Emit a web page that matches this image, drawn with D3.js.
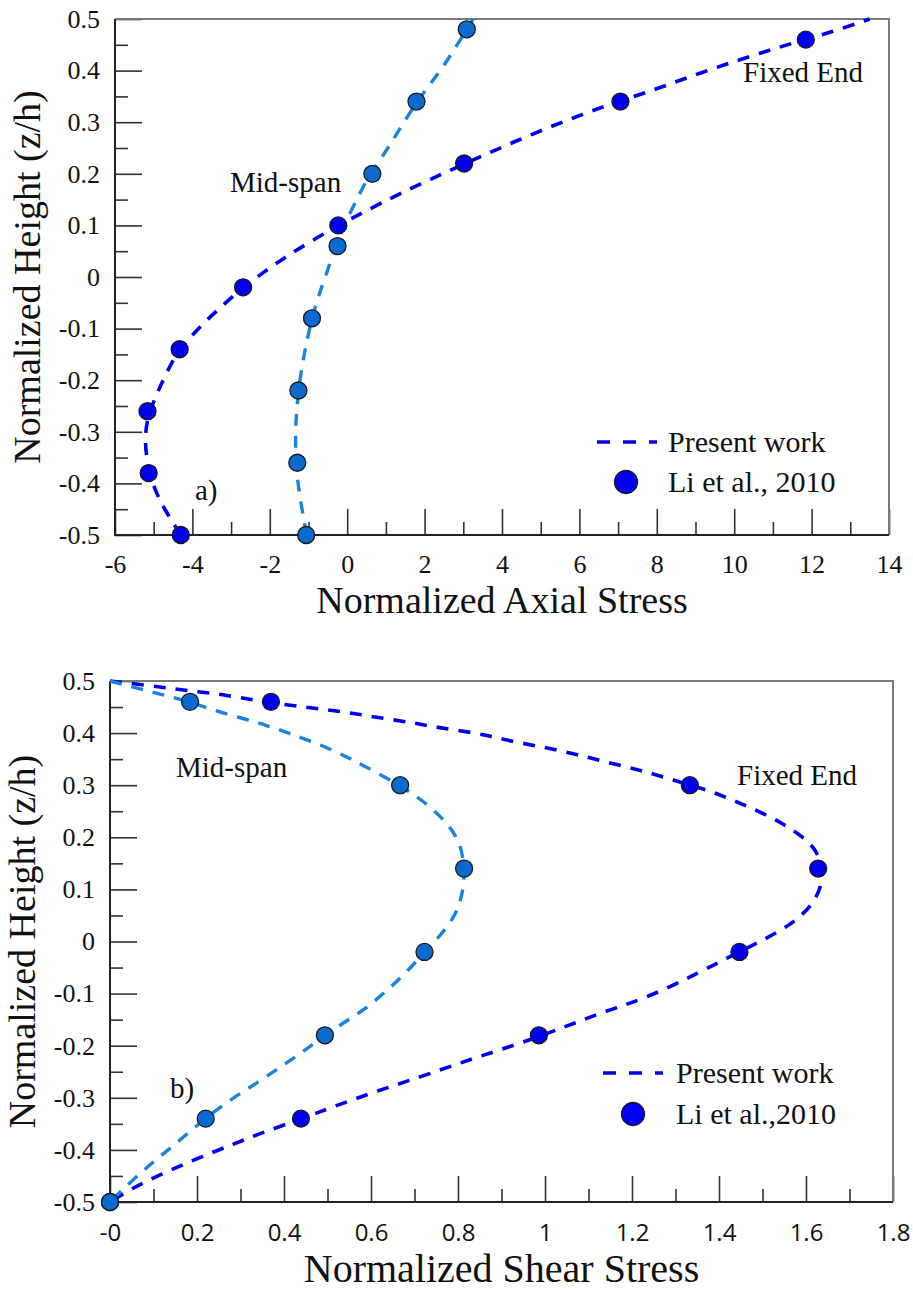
<!DOCTYPE html>
<meta charset="utf-8">
<style type="text/css">
body { margin: 0; background: #fff; }
.tick line { stroke: #333; stroke-width: 1.6; }
</style>
<body>
<div id="chart"></div>
<script src="https://d3js.org/d3.v7.min.js"></script>
<script>
var SERIF = "'Liberation Serif', 'Times New Roman', serif";
var SANS = "'Open Sans', 'DejaVu Sans', sans-serif";

// ---- panel a) : axial stress ----
var axialXTicks = [-6, -4, -2, 0, 2, 4, 6, 8, 10, 12, 14];
var heightTicks = [0.5, 0.4, 0.3, 0.2, 0.1, 0, -0.1, -0.2, -0.3, -0.4, -0.5];
var heightLabels = ["0.5", "0.4", "0.3", "0.2", "0.1", "0", "-0.1", "-0.2", "-0.3", "-0.4", "-0.5"];

// Li et al. 2010 points
var axialFixedZ = [0.46, 0.34, 0.22, 0.10, -0.02, -0.14, -0.26, -0.38, -0.50];
var axialFixedV = [11.85, 7.06, 3.02, -0.23, -2.69, -4.33, -5.16, -5.13, -4.30];
var axialMidZ = [0.48, 0.34, 0.20, 0.06, -0.08, -0.22, -0.36, -0.50];
var axialMidV = [3.09, 1.79, 0.65, -0.25, -0.91, -1.26, -1.29, -1.06];

// present work curves, [z, value]
var axialFixedLine = [[-0.5, -4.30], [-0.452, -4.71], [-0.413, -4.97], [-0.38, -5.10], [-0.348, -5.19], [-0.309, -5.23],
  [-0.27, -5.15], [-0.245, -5.02], [-0.213, -4.84], [-0.174, -4.59], [-0.141, -4.35], [-0.122, -4.11], [-0.09, -3.72],
  [-0.054, -3.21], [-0.021, -2.69], [0.004, -2.26], [0.036, -1.655], [0.068, -0.965], [0.099, -0.25], [0.125, 0.41],
  [0.162, 1.36], [0.20, 2.46], [0.236, 3.52], [0.278, 4.81], [0.314, 6.02], [0.34, 7.0], [0.362, 7.91], [0.398, 9.21],
  [0.43, 10.5], [0.46, 11.8], [0.472, 12.4], [0.494, 13.28], [0.5, 13.5]];
var axialMidLine = [[-0.5, -1.05], [-0.445, -1.18], [-0.393, -1.29], [-0.35, -1.33], [-0.303, -1.34], [-0.264, -1.31],
  [-0.219, -1.26], [-0.174, -1.17], [-0.122, -1.04], [-0.08, -0.91], [-0.038, -0.75], [0.007, -0.53], [0.059, -0.30],
  [0.097, -0.10], [0.136, 0.15], [0.188, 0.50], [0.20, 0.62], [0.266, 1.19], [0.34, 1.79], [0.398, 2.40], [0.443, 2.78],
  [0.479, 3.09], [0.5, 3.25]];

// ---- panel b) : shear stress ----
var shearXTicks = [0, 0.2, 0.4, 0.6, 0.8, 1, 1.2, 1.4, 1.6, 1.8];
var shearXLabels = ["-0", "0.2", "0.4", "0.6", "0.8", "1", "1.2", "1.4", "1.6", "1.8"];

var shearPtsZ = [0.46, 0.30, 0.14, -0.02, -0.18, -0.34, -0.50];
var shearFixedV = [0.37, 1.333, 1.628, 1.447, 0.986, 0.439, 0];
var shearMidV = [0.184, 0.667, 0.814, 0.723, 0.494, 0.22, 0];

var shearFixedLine = [[0.5, 0], [0.492, 0.084], [0.485, 0.146], [0.479, 0.207], [0.473, 0.268], [0.463, 0.33],
  [0.45, 0.444], [0.444, 0.506], [0.437, 0.567], [0.428, 0.628], [0.421, 0.69], [0.412, 0.743], [0.405, 0.805],
  [0.396, 0.866], [0.386, 0.912], [0.367, 1.034], [0.354, 1.096], [0.341, 1.157], [0.329, 1.218], [0.316, 1.272],
  [0.30, 1.333], [0.287, 1.387], [0.268, 1.441], [0.249, 1.494], [0.226, 1.548], [0.20, 1.594], [0.175, 1.625],
  [0.141, 1.637], [0.111, 1.638], [0.073, 1.617], [0.047, 1.586], [0.028, 1.555], [0.006, 1.509], [-0.02, 1.447],
  [-0.039, 1.402], [-0.062, 1.348], [-0.084, 1.295], [-0.107, 1.233], [-0.123, 1.18], [-0.138, 1.126], [-0.155, 1.073],
  [-0.171, 1.023], [-0.199, 0.931], [-0.225, 0.832], [-0.257, 0.724], [-0.286, 0.617], [-0.318, 0.51], [-0.34, 0.441],
  [-0.372, 0.333], [-0.391, 0.279], [-0.41, 0.218], [-0.449, 0.111], [-0.474, 0.05], [-0.5, 0]];
var shearMidLine = [[0.5, 0], [0.485, 0.069], [0.473, 0.123], [0.46, 0.184], [0.444, 0.237], [0.428, 0.306],
  [0.415, 0.36], [0.399, 0.414], [0.383, 0.467], [0.361, 0.529], [0.338, 0.582], [0.30, 0.667], [0.265, 0.728],
  [0.229, 0.774], [0.191, 0.805], [0.141, 0.816], [0.095, 0.812], [0.05, 0.795], [0.012, 0.76], [-0.02, 0.724],
  [-0.065, 0.675], [-0.097, 0.632], [-0.129, 0.588], [-0.151, 0.546], [-0.18, 0.494], [-0.209, 0.448], [-0.235, 0.402],
  [-0.27, 0.341], [-0.302, 0.279], [-0.34, 0.218], [-0.396, 0.14], [-0.421, 0.102], [-0.459, 0.05], [-0.5, 0]];

var legendLabelsA = ["Present work", "Li et al., 2010"];
var legendLabelsB = ["Present work", "Li et al.,2010"];

var fixedColor = "#0000f0";
var midLine = "#1a84dc";
var midFill = "#0a6ad0";

var svg = d3.select("#chart").append("svg")
    .attr("width", 913)
    .attr("height", 1290);

function zip(zs, vs) {
  return zs.map(function(z, i) { return {z: z, v: vs[i]}; });
}
function pairs(arr) {
  return arr.map(function(d) { return {z: d[0], v: d[1]}; });
}

function drawPanel(p) {
  var g = svg.append("g");
  var x = d3.scaleLinear().domain(p.xDomain).range([p.left, p.right]);
  var y = d3.scaleLinear().domain([-0.5, 0.5]).range([p.bottom, p.top]);

  // minor ticks
  g.append("g")
      .attr("transform", "translate(" + p.left + ",0)")
      .call(d3.axisLeft(y).tickValues(d3.range(-0.45, 0.5, 0.1)).tickSize(-13).tickFormat(""))
      .call(function(a) { a.select(".domain").remove(); });
  g.append("g")
      .attr("transform", "translate(0," + p.bottom + ")")
      .call(d3.axisBottom(x).tickValues(p.xMinor).tickSize(-13).tickFormat(""))
      .call(function(a) { a.select(".domain").remove(); });

  // major ticks + labels
  g.append("g")
      .attr("transform", "translate(" + p.left + ",0)")
      .call(d3.axisLeft(y).tickValues(heightTicks).tickSize(-27).tickPadding(p.yPad)
        .tickFormat(function(d, i) { return heightLabels[i]; }))
      .call(function(a) {
        a.select(".domain").remove();
        a.selectAll("text").style("font-size", "26px").style("font-family", SERIF).style("fill", "#111");
      });
  g.append("g")
      .attr("transform", "translate(0," + p.bottom + ")")
      .call(d3.axisBottom(x).tickValues(p.xTicks).tickSize(-26).tickPadding(p.xPad)
        .tickFormat(function(d, i) { return p.xLabels[i]; }))
      .call(function(a) {
        a.select(".domain").remove();
        a.selectAll("text")
            .style("font-size", p.xSans ? "24px" : "26px")
            .style("font-family", p.xSans ? SANS : SERIF)
            .style("fill", "#111");
      });

  // frame
  g.append("path")
      .attr("d", "M" + p.left + "," + p.top + "H" + p.right + "V" + p.bottom)
      .attr("fill", "none").attr("stroke", "#7a7a7a").attr("stroke-width", 2);
  g.append("path")
      .attr("d", "M" + p.left + "," + p.top + "V" + p.bottom + "H" + p.right)
      .attr("fill", "none").attr("stroke", "#222").attr("stroke-width", 2);

  var line = d3.line()
      .x(function(d) { return x(d.v); })
      .y(function(d) { return y(d.z); })
      .curve(d3.curveBasis);

  g.append("path")
      .datum(p.fixedLine)
      .attr("d", line)
      .attr("fill", "none").attr("stroke", fixedColor)
      .attr("stroke-width", 3.6).attr("stroke-dasharray", "12,10");
  g.append("path")
      .datum(p.midLine)
      .attr("d", line)
      .attr("fill", "none").attr("stroke", midLine)
      .attr("stroke-width", 3.4).attr("stroke-dasharray", "12,10");

  g.selectAll(".fdot")
      .data(p.fixedPts)
    .enter().append("circle")
      .attr("cx", function(d) { return x(d.v); })
      .attr("cy", function(d) { return y(d.z); })
      .attr("r", 8.5)
      .attr("fill", fixedColor).attr("stroke", "#1a1a1a").attr("stroke-width", 1.3);
  g.selectAll(".mdot")
      .data(p.midPts)
    .enter().append("circle")
      .attr("cx", function(d) { return x(d.v); })
      .attr("cy", function(d) { return y(d.z); })
      .attr("r", 8.5)
      .attr("fill", midFill).attr("stroke", "#1a1a1a").attr("stroke-width", 1.3);

  // titles
  g.append("text")
      .attr("x", (p.left + p.right) / 2)
      .attr("y", p.xTitleY)
      .attr("text-anchor", "middle")
      .style("font-family", SERIF).style("fill", "#111")
      .style("font-size", p.xTitleSize + "px")
      .text(p.xTitle);
  g.append("text")
      .attr("transform", "translate(" + p.yTitleX + "," + (p.top + p.bottom) / 2 + ") rotate(-90)")
      .attr("text-anchor", "middle")
      .style("font-family", SERIF).style("fill", "#111")
      .style("font-size", "38px")
      .text("Normalized Height (z/h)");

  // notes
  p.notes.forEach(function(n) {
    g.append("text")
        .attr("x", n[1]).attr("y", n[2])
        .style("font-family", SERIF).style("fill", "#111")
        .style("font-size", "29px")
        .text(n[0]);
  });

  // legend
  var lg = p.legend;
  g.append("line")
      .attr("x1", lg.x1).attr("x2", lg.x2)
      .attr("y1", lg.y1).attr("y2", lg.y1)
      .attr("stroke", fixedColor).attr("stroke-width", 3.6)
      .attr("stroke-dasharray", "13,13");
  g.append("circle")
      .attr("cx", lg.cx).attr("cy", lg.y2)
      .attr("r", 11.5)
      .attr("fill", fixedColor).attr("stroke", "#1a1a1a").attr("stroke-width", 1.3);
  [lg.y1, lg.y2].forEach(function(yy, i) {
    g.append("text")
        .attr("x", lg.tx).attr("y", yy + 10)
        .style("font-family", SERIF).style("fill", "#111")
        .style("font-size", "30px")
        .text(lg.labels[i]);
  });
}

drawPanel({
  left: 115, right: 889, top: 19, bottom: 535,
  xDomain: [-6, 14],
  xTicks: axialXTicks,
  xLabels: axialXTicks.map(String),
  xMinor: d3.range(-5, 14, 2),
  xSans: false,
  yPad: 15, xPad: 20,
  xTitle: "Normalized Axial Stress", xTitleY: 613, xTitleSize: 38,
  yTitleX: 40,
  fixedLine: pairs(axialFixedLine),
  midLine: pairs(axialMidLine),
  fixedPts: zip(axialFixedZ, axialFixedV),
  midPts: zip(axialMidZ, axialMidV),
  notes: [["Mid-span", 230, 192], ["Fixed End", 743, 82], ["a)", 195, 500]],
  legend: {x1: 597, x2: 657, y1: 442, y2: 482, cx: 626, tx: 668, labels: legendLabelsA}
});

drawPanel({
  left: 110, right: 893, top: 681, bottom: 1202,
  xDomain: [0, 1.8],
  xTicks: shearXTicks,
  xLabels: shearXLabels,
  xMinor: d3.range(0.1, 1.8, 0.2),
  xSans: true,
  yPad: 15, xPad: 22,
  xTitle: "Normalized Shear Stress", xTitleY: 1282, xTitleSize: 40,
  yTitleX: 35,
  fixedLine: pairs(shearFixedLine),
  midLine: pairs(shearMidLine),
  fixedPts: zip(shearPtsZ, shearFixedV),
  midPts: zip(shearPtsZ, shearMidV),
  notes: [["Mid-span", 176, 777], ["Fixed End", 737, 785], ["b)", 170, 1098]],
  legend: {x1: 603, x2: 663, y1: 1073, y2: 1114, cx: 633, tx: 676, labels: legendLabelsB}
});
</script>
</body>
